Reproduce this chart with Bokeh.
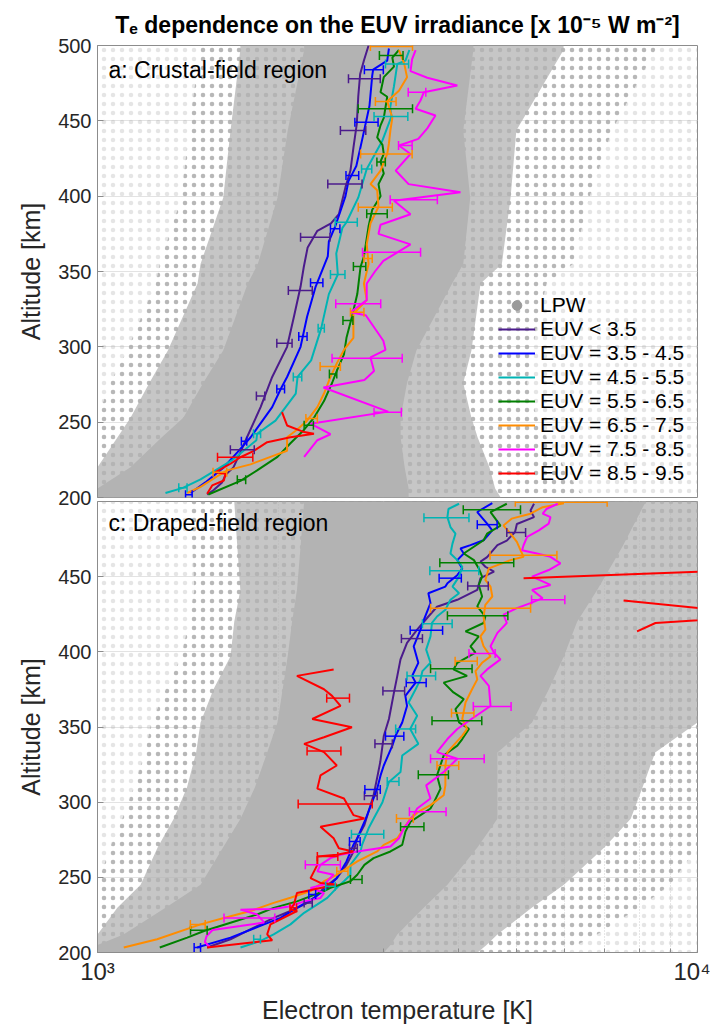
from bokeh.plotting import figure
from bokeh.models import (ColumnDataSource, Whisker, TeeHead, Legend, LegendItem,
                          FixedTicker, Range1d, Label)
from bokeh.layouts import column
from bokeh.embed import file_html
from bokeh.resources import INLINE

NAN = float("nan")
FONT = "Liberation Sans"

series_labels = ["EUV < 3.5", "EUV = 3.5 - 4.5", "EUV = 4.5 - 5.5", "EUV = 5.5 - 6.5",
                 "EUV = 6.5 - 7.5", "EUV = 7.5 - 8.5", "EUV = 8.5 - 9.5"]
series_colors = ["#4b1b8c", "#0000ff", "#00b4b4", "#008000", "#ff8c00", "#ff00ff", "#ff0000"]

# ---------------- panel a: crustal-field region ----------------
a1_alt = [500, 490, 481, 466, 448, 432, 417, 406, 388, 382, 377, 366, 353, 340, 320, 300, 280, 260, 240, 230, 220, 215, 210, 205, 202]
a1_te = [2830, 2780, 2740, 2720, 2705, 2670, 2640, 2590, 2525, 2450, 2325, 2240, 2207, 2180, 2125, 2070, 1955, 1870, 1775, 1730, 1685, 1635, 1613, 1562, 1523]
a1_bar_alt = [478, 443.6, 408, 372.8, 337.4, 302.4, 267.3, 231.7]
a1_bar_te = [2790, 2670, 2590, 2310, 2180, 2050, 1870, 1745]
a1_bar_err = [170, 130, 170, 130, 100, 60, 30, 80]

a2_alt = [498, 490, 484, 480, 460, 440, 420, 410, 400, 390, 380, 370, 360, 340, 320, 300, 280, 272, 260, 240, 230, 220, 210, 203]
a2_te = [3060, 3040, 2880, 2870, 2840, 2770, 2700, 2620, 2590, 2540, 2490, 2430, 2420, 2310, 2235, 2180, 2070, 2020, 1955, 1800, 1710, 1623, 1513, 1429]
a2_bar_alt = [483.9, 449, 413.7, 378.3, 342.5, 306.9, 272, 237.3, 201.8]
a2_bar_te = [2890, 2810, 2660, 2490, 2320, 2200, 2020, 1755, 1420]
a2_bar_err = [105, 125, 65, 45, 55, 35, 30, 18, 18]

a3_alt = [497, 490, 487.8, 473, 459, 452.9, 437, 418, 399, 382.7, 379, 362, 348, 335, 312.4, 291, 280, 269, 251, 242.3, 238, 225, 212, 206.4, 203]
a3_te = [3310, 3260, 3160, 3120, 3075, 3090, 2985, 2810, 2720, 2600, 2560, 2500, 2515, 2430, 2360, 2270, 2155, 2140, 1980, 1845, 1840, 1680, 1485, 1388, 1298]
a3_bar_alt = [487.8, 452.9, 418, 382.7, 348, 312.4, 280, 242.3, 206.4]
a3_bar_te = [3160, 3090, 2810, 2600, 2515, 2360, 2155, 1845, 1388]
a3_bar_err = [140, 200, 55, 110, 70, 28, 35, 25, 22]

a4_alt = [497, 492, 486, 479, 475, 469, 466, 459, 452, 447, 439, 434, 428, 423, 415, 408, 400, 391, 380, 368, 360, 353, 335, 320, 306, 295, 284, 276, 264, 253, 245, 236, 227, 218, 211, 202]
a4_te = [3180, 3100, 3120, 3000, 2985, 2963, 3040, 3020, 3000, 2963, 2925, 2985, 3000, 2963, 3000, 2940, 2963, 2870, 2830, 2800, 2780, 2744, 2710, 2655, 2600, 2575, 2505, 2460, 2385, 2295, 2210, 2097, 1995, 1845, 1731, 1530]
a4_bar_alt = [493.4, 458, 422.6, 388.3, 353.3, 317.5, 282, 248, 211.7]
a4_bar_te = [3090, 3035, 2970, 2925, 2735, 2615, 2470, 2250, 1738]
a4_bar_err = [140, 315, 48, 115, 65, 50, 35, 40, 28]

a5_alt = [497, 488, 479, 470, 463, 452, 444, 435, 428, 417, 408, 404, 393, 382, 368, 355, 342, 331, 322, 306, 298, 289, 280, 269, 260, 251, 245, 240, 231, 227, 222, 218, 214, 207, 203]
a5_te = [3180, 3245, 3280, 3180, 3040, 3100, 3078, 3060, 3040, 2963, 2851, 2925, 2940, 2851, 2810, 2830, 2780, 2810, 2670, 2670, 2575, 2505, 2445, 2385, 2325, 2235, 2150, 2070, 2070, 1942, 1799, 1645, 1582, 1485, 1411]
a5_bar_alt = [499.3, 462.8, 428, 392.7, 358.6, 323, 287, 252.4, 216.8]
a5_bar_te = [3100, 3025, 3045, 2910, 2825, 2710, 2445, 2275, 1600]
a5_bar_err = [250, 120, 300, 190, 45, 70, 95, 50, 42]

a6_alt = [497, 491, 483, 478.6, 473.5, 469, 463.5, 458, 453.5, 445, 438, 433.6, 428, 417, 408, 402.6, 397, 388, 381, 375, 368, 357, 350, 342, 331, 323, 321, 304, 298, 293, 284, 278, 273, 257, 249, 242, 238, 227]
a6_te = [3390, 3345, 3324, 3545, 3978, 3500, 3454, 3390, 3658, 3545, 3425, 3180, 3324, 3140, 3300, 4027, 3120, 3324, 2963, 2940, 3324, 2995, 2900, 2810, 2810, 2640, 2800, 2995, 3020, 2851, 2890, 2785, 2380, 3050, 2265, 2445, 2325, 2210]
a6_bar_alt = [469, 433.6, 397.6, 362.8, 328.6, 292.5, 256.6]
a6_bar_te = [3410, 3260, 3380, 3110, 2730, 2840, 3050]
a6_bar_err = [115, 85, 305, 345, 235, 380, 160]

a7_alt = [256.6, 247.8, 243.4, 242.3, 240, 236.7, 231, 226.7, 222.4, 216.8, 215.7, 211.3, 208, 202.5]
a7_te = [2030, 2070, 2210, 2295, 2097, 1918, 1822, 1731, 1666, 1572, 1634, 1624, 1553, 1523]
a7_bar_alt = [226.7]
a7_bar_te = [1700]
a7_bar_err = [115]

# LPW scatter cloud of panel a, summarised as density bands (edges in K)
a_cloud_alt = [200, 206, 220, 240, 253, 276, 297.6, 342, 355, 399, 443.6, 497, 500]
a_dense_left = [1000, 1000, 1135, 1280, 1390, 1500, 1620, 1780, 1850, 1995, 2075, 2210, 2210]
a_dense_right = [3300, 3300, 3250, 3200, 3200, 3280, 3400, 3900, 4070, 4180, 4070, 4230, 4230]
a_mid_left = [1000, 1000, 1000, 1080, 1135, 1220, 1310, 1468, 1485, 1620, 1666, 1730, 1730]
a_mid_right = [4700, 4600, 4500, 4300, 4200, 4070, 4200, 4350, 4720, 4880, 4990, 5980, 5980]
a_halo_left = [1000, 1000, 1000, 1000, 1000, 1050, 1120, 1250, 1270, 1380, 1420, 1480, 1480]
a_halo_right = [6500, 6300, 6000, 5600, 5400, 5200, 5300, 5600, 6200, 6600, 7200, 8500, 8500]

# ---------------- panel c: draped-field region ----------------
c1_alt = [498.5, 494, 489.6, 485, 479.7, 474, 471, 463, 460, 456.6, 453.3, 449, 441.2, 434.6, 430, 423.5, 414.8, 406, 395, 384, 373, 355.3, 344, 326.7, 317.8, 304.6, 298, 284.8, 276, 267, 258.3, 249.5, 243, 234, 227.6, 223, 216.5, 208.8, 203.3]
c1_te = [5340, 5268, 5340, 5000, 4965, 4810, 4640, 4460, 4348, 4430, 4580, 4348, 4295, 3978, 3680, 3560, 3410, 3280, 3199, 3160, 3120, 3060, 3000, 2960, 2930, 2885, 2851, 2785, 2710, 2670, 2600, 2505, 2385, 2265, 2097, 1966, 1822, 1666, 1523]
c1_bar_alt = [479.3, 443.8, 408.8, 374, 338.8, 304.2, 269.4, 233]
c1_bar_te = [4990, 4310, 3345, 3120, 3000, 2855, 2670, 2245]
c1_bar_err = [180, 170, 135, 130, 100, 70, 40, 35]

c2_alt = [498.9, 495, 493, 485.3, 480.8, 474.2, 471, 468.7, 465.4, 461, 455.5, 451, 445.6, 443.4, 439, 432.4, 421.4, 414.8, 403.7, 392.7, 383.9, 379.5, 370.7, 364, 353, 344.3, 337.6, 324.4, 317.8, 309, 300.2, 289, 276, 271.6, 260.6, 249.5, 243, 236.3, 229.7, 223, 218.7, 209.9, 203.3]
c2_te = [4550, 4375, 4295, 4460, 4550, 4400, 4184, 4027, 4078, 3978, 4055, 3978, 3830, 3800, 3560, 3589, 3500, 3454, 3365, 3425, 3345, 3390, 3259, 3280, 3220, 3140, 3100, 3000, 2963, 2925, 2870, 2800, 2710, 2670, 2600, 2505, 2415, 2295, 2150, 2018, 1895, 1666, 1465]
c2_bar_alt = [484.6, 449, 414.3, 379.5, 343.9, 308.4, 273.8, 238.5, 203.3]
c2_bar_te = [4465, 3875, 3540, 3400, 3130, 2875, 2685, 2280, 1467]
c2_bar_err = [170, 165, 220, 130, 110, 85, 55, 30, 18]

c3_alt = [498.5, 495, 489.6, 483, 478.6, 472, 465.4, 461, 456.6, 450, 443.4, 439, 434.6, 428, 423.5, 419.2, 410.3, 401.5, 392.7, 387.2, 381.7, 375.1, 366.3, 357.5, 348.7, 338.8, 331, 320, 313.4, 300, 289, 282.6, 271.6, 267.2, 258.3, 251.7, 247.4, 243, 236.3, 232, 226.4, 218.7, 212.1, 207.7, 203.3]
c3_te = [4005, 3845, 3830, 3875, 3950, 3905, 3875, 3978, 4055, 4005, 3905, 4005, 3875, 3800, 3680, 3610, 3589, 3530, 3589, 3480, 3454, 3390, 3300, 3410, 3320, 3425, 3220, 3199, 3060, 2985, 2885, 2830, 2760, 2744, 2640, 2640, 2575, 2505, 2415, 2325, 2210, 2097, 1966, 1870, 1731]
c3_bar_alt = [489.2, 454, 418.7, 384, 348.7, 313.8, 278.6, 244, 208.8]
c3_bar_te = [3830, 3950, 3690, 3470, 3265, 3110, 2825, 2445, 1845]
c3_bar_err = [330, 370, 210, 190, 125, 70, 175, 45, 24]

c4_alt = [498.5, 492.9, 484, 478.6, 474.2, 465.4, 461, 455.5, 450, 444.5, 436.8, 430.2, 423.5, 419.2, 413.6, 410.3, 403.7, 399.4, 392.7, 388.3, 384, 379.5, 373, 368.5, 361.9, 353, 348.7, 342, 337.6, 331, 317.8, 309, 300.2, 295.8, 291.4, 287, 280.4, 271.6, 267.2, 262.8, 258.3, 251.7, 247.4, 243, 240.8, 234, 229.7, 225.3, 219.8, 214.3, 209.9, 203.3]
c4_te = [4810, 4519, 4695, 4460, 4400, 4078, 4240, 4320, 4375, 4320, 4375, 4295, 4430, 4400, 4105, 4320, 4184, 4265, 3978, 3920, 4130, 3775, 3920, 4078, 3950, 4005, 4160, 4055, 3978, 3775, 3680, 3730, 3640, 3589, 3454, 3324, 3260, 3220, 3078, 2885, 2785, 2710, 2640, 2445, 2385, 2150, 1966, 1845, 1666, 1505, 1411, 1270]
c4_bar_alt = [494.5, 459.2, 424, 388.8, 354.2, 318.3, 283.7, 248.5, 214.8]
c4_bar_te = [4570, 4330, 4330, 3900, 3990, 3635, 3350, 2700, 1476]
c4_bar_err = [500, 610, 500, 310, 380, 210, 150, 60, 47]

c5_alt = [498.9, 496.2, 491.9, 488.6, 484, 478.6, 473.1, 467.6, 463.2, 461, 457.7, 455.5, 447.8, 443.4, 436.8, 431.3, 423.5, 414.8, 410.3, 403.7, 397, 392.7, 387.2, 381.7, 375.1, 366.3, 355.3, 348.7, 344.3, 333.3, 324.4, 311.2, 304.6, 298, 293.6, 289.2, 276, 271.6, 267.2, 260.6, 251.7, 247.4, 240.8, 236.4, 233, 227.6, 223, 218.7, 208.8, 203.3]
c5_te = [5990, 5520, 5268, 4900, 4750, 4879, 5000, 5070, 5130, 4879, 4640, 4490, 4430, 4519, 4550, 4430, 4400, 4430, 4348, 4400, 4519, 4375, 4265, 4295, 4210, 4105, 4055, 4130, 4055, 3830, 3800, 3800, 3775, 3589, 3425, 3324, 3160, 3000, 2925, 2710, 2505, 2385, 2265, 2097, 1966, 1799, 1624, 1485, 1257, 1106]
c5_bar_alt = [499.5, 464.3, 429, 393.8, 359.3, 324.4, 289.2, 254, 218.7]
c5_bar_te = [6020, 5170, 4430, 4120, 4065, 3840, 3255, 2560, 1470]
c5_bar_err = [1050, 660, 840, 175, 175, 160, 105, 55, 42]

c6_alt = [498.5, 495, 491.9, 489.6, 485.3, 480.8, 476.4, 470.9, 467.6, 465.4, 463.2, 458.8, 454.4, 450, 444.5, 441.2, 435.7, 432.4, 429.1, 424.7, 419.2, 412.6, 403.7, 399.4, 395, 388.3, 384, 377.3, 364, 355.3, 348.7, 342, 333.3, 328.9, 320, 311.2, 302.4, 295.8, 291.4, 282.6, 276, 270.5, 267.2, 265, 262.8, 258.3, 254, 251.7, 245.2, 243, 239.6, 236.3, 234, 230.8, 229, 228.5, 225.3, 220, 217.6, 215, 211, 207, 203.3]
c6_te = [5850, 5600, 5520, 5688, 5650, 5440, 5200, 5130, 5100, 5400, 5688, 5910, 5650, 5300, 5688, 5300, 5520, 5268, 5000, 4750, 4810, 4640, 4519, 4580, 4695, 4460, 4348, 4490, 4519, 4200, 3978, 3830, 3680, 3978, 3775, 3530, 3589, 3410, 3365, 3240, 3180, 3078, 2710, 2541, 2445, 2353, 2325, 2475, 2385, 2265, 2385, 2353, 2210, 2097, 1966, 1731, 1845, 1895, 1730, 1555, 1520, 1510, 1540]
c6_bar_alt = [434.6, 398.9, 363.7, 328.9, 293.6, 258.3, 223]
c6_bar_te = [5650, 4380, 4560, 4000, 3560, 2380, 1800]
c6_bar_err = [360, 220, 330, 410, 250, 160, 175]

c7_alt = [454.5, 449, NAN, 434.1, 424.2, 419.2, 413.6, NAN, 388.3, 384, 375.1, 370.7, 364, 355.3, 349.8, 343.2, 338.8, 333.3, 324.4, 317.8, 309, 302.4, 291.4, 289.2, 283.7, 276, 269.4, 267.2, 265, 263.9, 258.3, 249.5, 246.3, 245.2, 239.6, 232, 228.6, 227.6, 218.7, 212.1, 208.1, 203.3]
c7_te = [12100, 5130, NAN, 7530, 13250, 8510, 7930, NAN, 2475, 2150, 2385, 2460, 2541, 2280, 2655, 2385, 2210, 2385, 2505, 2353, 2325, 2575, 2670, 2785, 2353, 2475, 2525, 2670, 2505, 2325, 2325, 2265, 2353, 2505, 2150, 2125, 2097, 2150, 1942, 1918, 1955, 1523]
c7_bar_alt = [369.2, 334, 298.7, 263.9, 229.7]
c7_bar_te = [2520, 2390, 2515, 2420, 2120]
c7_bar_err = [110, 155, 355, 95, 27]

c_cloud_alt = [200, 205, 212, 230, 245, 270, 289, 310, 333, 353, 375, 397, 420, 441, 470, 500]
c_dense_left = [1000, 1000, 1105, 1300, 1485, 1620, 1731, 1830, 1918, 1995, 2035, 2075, 2110, 2150, 2180, 2210]
c_dense_right = [3000, 3080, 3160, 3500, 3830, 4300, 4640, 4640, 4640, 5300, 5650, 5990, 6300, 6800, 7500, 8200]
c_mid_left = [1000, 1000, 1000, 1080, 1180, 1260, 1340, 1410, 1460, 1485, 1560, 1666, 1690, 1730, 1710, 1690]
c_mid_right = [4300, 4450, 4640, 5300, 5990, 7000, 7740, 8100, 8500, 10000, 10000, 10000, 10000, 10000, 10000, 10000]
c_halo_left = [1000, 1000, 1000, 1000, 1000, 1050, 1100, 1150, 1200, 1230, 1300, 1380, 1420, 1450, 1440, 1420]
c_halo_right = [5800, 6300, 6800, 8000, 9000, 10000, 10000, 10000, 10000, 10000, 10000, 10000, 10000, 10000, 10000, 10000]

panel_a = [(a1_alt, a1_te, a1_bar_alt, a1_bar_te, a1_bar_err),
           (a2_alt, a2_te, a2_bar_alt, a2_bar_te, a2_bar_err),
           (a3_alt, a3_te, a3_bar_alt, a3_bar_te, a3_bar_err),
           (a4_alt, a4_te, a4_bar_alt, a4_bar_te, a4_bar_err),
           (a5_alt, a5_te, a5_bar_alt, a5_bar_te, a5_bar_err),
           (a6_alt, a6_te, a6_bar_alt, a6_bar_te, a6_bar_err),
           (a7_alt, a7_te, a7_bar_alt, a7_bar_te, a7_bar_err)]
panel_c = [(c1_alt, c1_te, c1_bar_alt, c1_bar_te, c1_bar_err),
           (c2_alt, c2_te, c2_bar_alt, c2_bar_te, c2_bar_err),
           (c3_alt, c3_te, c3_bar_alt, c3_bar_te, c3_bar_err),
           (c4_alt, c4_te, c4_bar_alt, c4_bar_te, c4_bar_err),
           (c5_alt, c5_te, c5_bar_alt, c5_bar_te, c5_bar_err),
           (c6_alt, c6_te, c6_bar_alt, c6_bar_te, c6_bar_err),
           (c7_alt, c7_te, c7_bar_alt, c7_bar_te, c7_bar_err)]

CLOUD = "#b3b3b3"
DOT = "#a8a8a8"
TICK_COLOR = "#262626"
FRAME_COLOR = "#8c8c8c"


def style_panel(p, yticks):
    p.outline_line_color = FRAME_COLOR
    p.outline_line_width = 1
    p.background_fill_color = "white"
    y = p.yaxis[0]
    y.ticker = FixedTicker(ticks=yticks)
    y.axis_line_color = FRAME_COLOR
    y.major_tick_in = 6
    y.major_tick_out = 0
    y.major_tick_line_color = FRAME_COLOR
    y.minor_tick_line_color = None
    y.major_label_text_font = FONT
    y.major_label_text_font_size = "20px"
    y.major_label_text_color = TICK_COLOR
    y.major_label_standoff = 6
    y.axis_label = "Altitude [km]"
    y.axis_label_text_font = FONT
    y.axis_label_text_font_size = "25px"
    y.axis_label_text_font_style = "normal"
    y.axis_label_text_color = TICK_COLOR
    y.axis_label_standoff = 10
    p.ygrid.ticker = FixedTicker(ticks=[250, 300, 350, 400, 450])
    p.ygrid.grid_line_color = "#e3e3e3"
    p.ygrid.grid_line_width = 1
    p.xgrid.grid_line_color = None


def draw_cloud(p, alt, dl, dr, ml, mr, hl, hr):
    # faint stipple for the sparse LPW points spread over the whole panel
    sparse = ColumnDataSource(dict(y=[200, 500], x1=[1000, 1000], x2=[10000, 10000]))
    p.harea(x1="x1", x2="x2", y="y", source=sparse, fill_alpha=0.0,
            hatch_pattern="dot", hatch_color=DOT, hatch_scale=9, hatch_weight=1.5,
            hatch_alpha=0.3)
    # denser stipple near the main cloud
    halo = ColumnDataSource(dict(y=alt, x1=hl, x2=hr))
    p.harea(x1="x1", x2="x2", y="y", source=halo, fill_alpha=0.0,
            hatch_pattern="dot", hatch_color=DOT, hatch_scale=9, hatch_weight=1.5,
            hatch_alpha=0.75)
    mid = ColumnDataSource(dict(y=alt, x1=ml, x2=mr))
    p.harea(x1="x1", x2="x2", y="y", source=mid, fill_color=CLOUD, fill_alpha=0.75)
    dense = ColumnDataSource(dict(y=alt, x1=dl, x2=dr))
    p.harea(x1="x1", x2="x2", y="y", source=dense, fill_color=CLOUD, fill_alpha=1.0)


def draw_series(p, panel):
    rends = []
    for (alt, te, balt, bte, berr), col in zip(panel, series_colors):
        r = p.line(x=te, y=alt, line_color=col, line_width=2)
        rends.append(r)
    for (alt, te, balt, bte, berr), col in zip(panel, series_colors):
        src = ColumnDataSource(dict(y=balt,
                                    lo=[t - e for t, e in zip(bte, berr)],
                                    hi=[t + e for t, e in zip(bte, berr)]))
        w = Whisker(source=src, base="y", lower="lo", upper="hi", dimension="width",
                    line_color=col, line_width=1.5, level="annotation",
                    upper_head=TeeHead(size=9, line_color=col, line_width=1.5),
                    lower_head=TeeHead(size=9, line_color=col, line_width=1.5))
        p.add_layout(w)
    return rends


# ---------------- top figure ----------------
p1 = figure(width=710, height=509, x_axis_type="log",
            x_range=Range1d(1000, 10000), y_range=Range1d(200, 500),
            output_backend="svg", toolbar_location=None,
            min_border_left=97, min_border_right=13, min_border_top=45, min_border_bottom=12)
p1.xaxis.visible = False
style_panel(p1, [200, 250, 300, 350, 400, 450, 500])
draw_cloud(p1, a_cloud_alt, a_dense_left, a_dense_right, a_mid_left, a_mid_right,
           a_halo_left, a_halo_right)
rends_a = draw_series(p1, panel_a)
lpw = p1.scatter(x=[NAN], y=[NAN], size=7, fill_color="#9a9a9a", line_color="#9a9a9a")

p1.title.text = "T\u2091 dependence on the EUV irradiance [x 10\u207b\u2075 W m\u207b\u00b2]"
p1.title.align = "center"
p1.title.text_font = FONT
p1.title.text_font_size = "23px"
p1.title.text_font_style = "bold"
p1.title.text_color = "black"
p1.title.standoff = 16

items = [LegendItem(label="LPW", renderers=[lpw])]
for lab, r in zip(series_labels, rends_a):
    items.append(LegendItem(label=lab, renderers=[r]))
leg = Legend(items=items, location=(401, 12), padding=0, margin=0, spacing=0,
             label_height=24, glyph_height=24, glyph_width=37, label_standoff=5,
             label_text_font=FONT, label_text_font_size="21px", label_text_color="black",
             background_fill_alpha=0.0, border_line_alpha=0.0)
p1.add_layout(leg)

p1.add_layout(Label(x=1043, y=483.5, text="a: Crustal-field region", text_font=FONT,
                    text_font_size="23px", text_baseline="middle", text_color="black"))

# ---------------- bottom figure ----------------
p2 = figure(width=710, height=529, x_axis_type="log",
            x_range=p1.x_range, y_range=Range1d(200, 500),
            output_backend="svg", toolbar_location=None,
            min_border_left=97, min_border_right=13, min_border_top=4, min_border_bottom=20,
            margin=(-12, 0, 0, 0))
p2.border_fill_alpha = 0.0
style_panel(p2, [200, 250, 300, 350, 400, 450])
x = p2.xaxis[0]
x.ticker = FixedTicker(ticks=[1000, 10000],
                       minor_ticks=[2000, 3000, 4000, 5000, 6000, 7000, 8000, 9000])
x.major_label_overrides = {1000: "10\u00b3", 10000: "10\u2074"}
x.axis_line_color = FRAME_COLOR
x.major_tick_in = 6
x.major_tick_out = 0
x.minor_tick_in = 4
x.minor_tick_out = 0
x.major_tick_line_color = FRAME_COLOR
x.minor_tick_line_color = FRAME_COLOR
x.major_label_text_font = FONT
x.major_label_text_font_size = "24px"
x.major_label_text_color = TICK_COLOR
x.major_label_standoff = 5
x.axis_label = "Electron temperature [K]"
x.axis_label_text_font = FONT
x.axis_label_text_font_size = "25px"
x.axis_label_text_font_style = "normal"
x.axis_label_text_color = TICK_COLOR
x.axis_label_standoff = 8
p2.xgrid.minor_grid_line_color = "#cfcfcf"
p2.xgrid.minor_grid_line_dash = "1 2"

draw_cloud(p2, c_cloud_alt, c_dense_left, c_dense_right, c_mid_left, c_mid_right,
           c_halo_left, c_halo_right)
draw_series(p2, panel_c)
p2.add_layout(Label(x=1043, y=485.5, text="c: Draped-field region", text_font=FONT,
                    text_font_size="23px", text_baseline="middle", text_color="black"))

layout = column(p1, p2, spacing=0)
open("out.html", "w").write(file_html(layout, INLINE))
